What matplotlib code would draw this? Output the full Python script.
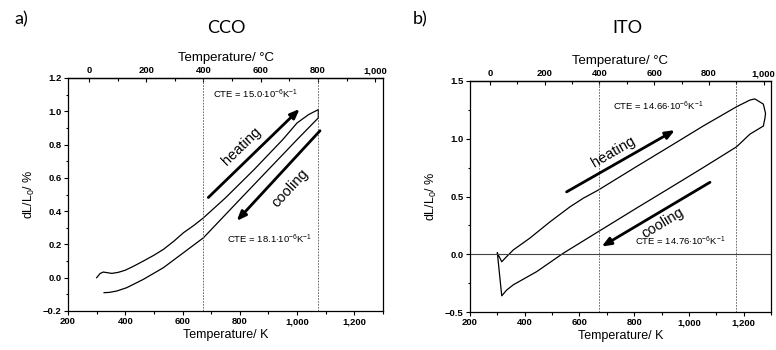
import matplotlib.pyplot as plt
from matplotlib.ticker import MultipleLocator, FuncFormatter

plt.rcParams['font.family'] = ['Liberation Sans', 'DejaVu Sans']
plt.rcParams['mathtext.fontset'] = 'custom'
plt.rcParams['mathtext.rm'] = 'Liberation Sans'
plt.rcParams['mathtext.it'] = 'Liberation Sans:italic'
plt.rcParams['mathtext.bf'] = 'Liberation Sans:bold'

# CCO dilatometer run (T in K, dL/L0 in %)
cco_heat_T = [300, 312, 323, 338, 353, 375, 400, 430, 463, 500, 533, 570, 603, 640, 673,
              750, 850, 950, 1000, 1040, 1074]
cco_heat_dl = [0.00, 0.025, 0.034, 0.030, 0.026, 0.032, 0.045, 0.07, 0.10, 0.135, 0.17, 0.22,
               0.27, 0.315, 0.36, 0.48, 0.65, 0.83, 0.93, 0.98, 1.01]
cco_cool_T = [1074, 1000, 900, 800, 673, 603, 533, 463, 405, 370, 345, 326]
cco_cool_dl = [0.96, 0.83, 0.65, 0.47, 0.24, 0.15, 0.06, -0.01, -0.06, -0.08, -0.088, -0.09]

# ITO dilatometer run
ito_heat_T = [300, 316, 334, 358, 419, 492, 565, 614, 669, 809, 931, 1052, 1174, 1223, 1241]
ito_heat_dl = [0.01, -0.065, -0.02, 0.037, 0.14, 0.28, 0.41, 0.485, 0.556, 0.76, 0.935,
               1.11, 1.277, 1.335, 1.345]
ito_cool_T = [1241, 1272, 1280, 1278, 1272, 1223, 1174, 1052, 931, 809, 669, 541, 444, 358,
              334, 316, 300]
ito_cool_dl = [1.345, 1.30, 1.22, 1.18, 1.11, 1.04, 0.93, 0.75, 0.575, 0.40, 0.196, 0.009,
               -0.15, -0.265, -0.31, -0.36, 0.01]

cco_marks_C = [400, 800]
ito_marks_C = [400, 900]
cte_labels = {
    'cco': (r'CTE = 15.0$\cdot$10$^{-6}$K$^{-1}$', r'CTE = 18.1$\cdot$10$^{-6}$K$^{-1}$'),
    'ito': (r'CTE = 14.66$\cdot$10$^{-6}$K$^{-1}$', r'CTE = 14.76$\cdot$10$^{-6}$K$^{-1}$'),
}

TICK_FS = 6.8
LABEL_FS = 9


def thousands(v, pos):
    return f'{v:,.0f}'


def bold_ticks(axis):
    for lbl in axis.get_ticklabels():
        lbl.set_fontweight('bold')


def setup_axes(ax, ylim, ymajor, yminor):
    ax.set_xlim(200, 1300)
    ax.set_ylim(*ylim)
    ax.xaxis.set_major_locator(MultipleLocator(200))
    ax.xaxis.set_minor_locator(MultipleLocator(100))
    ax.xaxis.set_major_formatter(FuncFormatter(thousands))
    ax.yaxis.set_major_locator(MultipleLocator(ymajor))
    ax.yaxis.set_minor_locator(MultipleLocator(yminor))
    ax.tick_params(which='both', direction='out', labelsize=TICK_FS, width=0.8, pad=1.5)
    ax.tick_params(which='major', length=3)
    ax.tick_params(which='minor', length=1.8)
    for s in ax.spines.values():
        s.set_linewidth(0.9)
    ax.set_xlabel('Temperature/ K', fontsize=LABEL_FS, labelpad=2)
    ax.set_ylabel(r'dL/L$_0$/ %', fontsize=LABEL_FS, labelpad=4)

    sec = ax.secondary_xaxis('top', functions=(lambda k: k - 273.15, lambda c: c + 273.15))
    sec.set_xticks([0, 200, 400, 600, 800, 1000])
    sec.xaxis.set_minor_locator(MultipleLocator(100))
    sec.xaxis.set_major_formatter(FuncFormatter(thousands))
    sec.tick_params(which='both', direction='in', labelsize=TICK_FS, width=0.8, pad=2)
    sec.tick_params(which='major', length=3)
    sec.tick_params(which='minor', length=1.8)
    sec.spines['top'].set_linewidth(0.9)
    sec.set_xlabel('Temperature/ °C', fontsize=LABEL_FS + 0.5, labelpad=4)
    return sec


def arrow(ax, tail, head):
    ax.annotate('', xy=head, xytext=tail,
                arrowprops=dict(arrowstyle='-|>,head_length=0.55,head_width=0.22',
                                lw=2.0, color='black', mutation_scale=10,
                                shrinkA=0, shrinkB=0))


fig = plt.figure(figsize=(7.76, 3.5), dpi=100)
ax1 = fig.add_axes([68 / 776, 1 - 311 / 350, 315 / 776, 233 / 350])
ax2 = fig.add_axes([470 / 776, 1 - 312 / 350, 301 / 776, 231 / 350])

# ---- CCO ----
sec1 = setup_axes(ax1, (-0.2, 1.2), 0.2, 0.1)
ax1.plot(cco_heat_T + cco_cool_T, cco_heat_dl + cco_cool_dl, color='black', lw=0.9)
for c in cco_marks_C:
    ax1.axvline(c + 273.15, color='#555555', lw=0.6, ls=(0, (2, 1.5)))
arrow(ax1, (690, 0.482), (1009, 1.014))
arrow(ax1, (1080, 0.883), (789, 0.341))
ax1.text(806, 0.79, 'heating', fontsize=10.5, rotation=44, ha='center', va='center',
         rotation_mode='anchor')
ax1.text(975, 0.54, 'cooling', fontsize=10.5, rotation=47, ha='center', va='center',
         rotation_mode='anchor')
ax1.text(706, 1.10, cte_labels['cco'][0], fontsize=6.8, ha='left', va='center')
ax1.text(754, 0.23, cte_labels['cco'][1], fontsize=6.8, ha='left', va='center')

# ---- ITO ----
sec2 = setup_axes(ax2, (-0.5, 1.5), 0.5, 0.25)
ax2.plot(ito_heat_T + ito_cool_T, ito_heat_dl + ito_cool_dl, color='black', lw=0.9)
ax2.axhline(0, color='#444444', lw=0.8)
for c in ito_marks_C:
    ax2.axvline(c + 273.15, color='#555555', lw=0.6, ls=(0, (2, 1.5)))
arrow(ax2, (553, 0.54), (949, 1.075))
arrow(ax2, (1077, 0.623), (681, 0.066))
ax2.text(724, 0.89, 'heating', fontsize=10.5, rotation=30, ha='center', va='center',
         rotation_mode='anchor')
ax2.text(906, 0.27, 'cooling', fontsize=10.5, rotation=31, ha='center', va='center',
         rotation_mode='anchor')
ax2.text(724, 1.277, cte_labels['ito'][0], fontsize=6.8, ha='left', va='center')
ax2.text(803, 0.109, cte_labels['ito'][1], fontsize=6.8, ha='left', va='center')

for ax, sec in ((ax1, sec1), (ax2, sec2)):
    bold_ticks(ax.xaxis)
    bold_ticks(ax.yaxis)
    bold_ticks(sec.xaxis)

# panel letters and material names
title_font = ['Lato', 'DejaVu Sans']
fig.text(21 / 776, 1 - 19 / 350, 'a)', fontsize=13, family=title_font, ha='center', va='center')
fig.text(420 / 776, 1 - 19 / 350, 'b)', fontsize=13, family=title_font, ha='center', va='center')
fig.text(226 / 776, 1 - 28 / 350, 'CCO', fontsize=13, family=title_font, ha='center', va='center')
fig.text(627 / 776, 1 - 28 / 350, 'ITO', fontsize=13, family=title_font, ha='center', va='center')

fig.savefig('out.png', dpi=100)
